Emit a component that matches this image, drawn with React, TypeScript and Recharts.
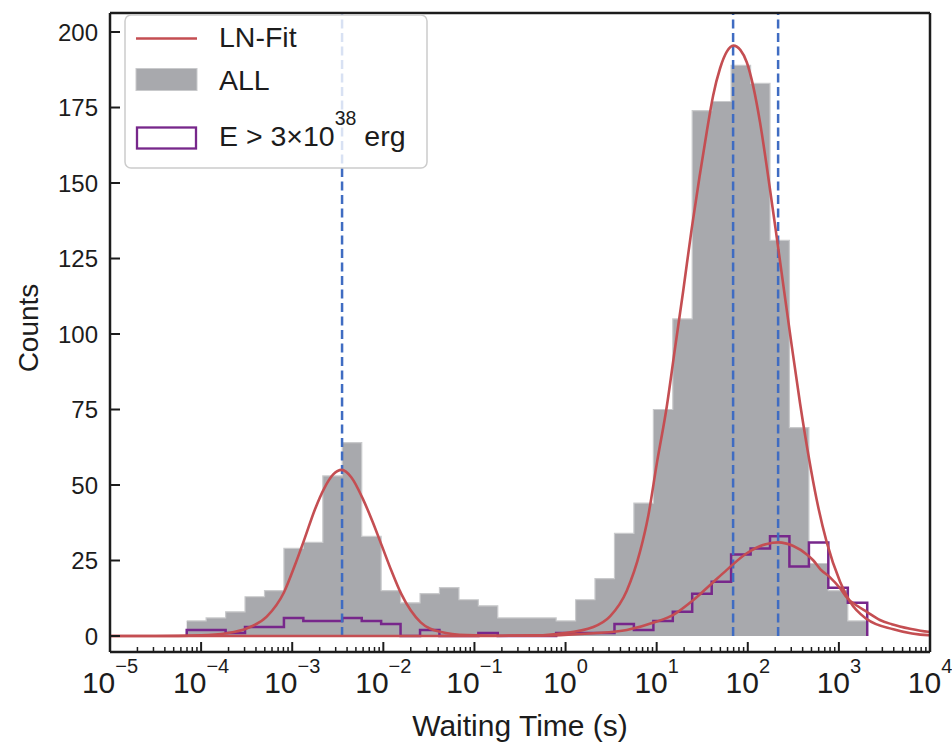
import React from 'react';
import { ComposedChart, Line, Area, XAxis, YAxis, ReferenceLine } from 'recharts';

const W = 952;
const H = 748;
const PLOT = { left: 110, right: 930, top: 13, bottom: 652 };
const FONT = '"Liberation Sans", Arial, Helvetica, sans-serif';
const INK = '#1c1c1c';

// histogram bin edges (log10 of waiting time, s)
const binEdges = [
  -4.158, -3.945, -3.731, -3.518, -3.304, -3.091, -2.878, -2.664, -2.451, -2.237,
  -2.024, -1.811, -1.597, -1.384, -1.17, -0.957, -0.744, -0.53, -0.317, -0.103,
  0.11, 0.323, 0.537, 0.75, 0.964, 1.177, 1.39, 1.604, 1.817, 2.031,
  2.244, 2.457, 2.671, 2.884, 3.098, 3.311,
];
// ALL counts per bin
const allCounts = [
  5, 6, 8, 13, 15, 29, 31, 53, 64, 33,
  15, 11, 14, 16, 12, 10, 6, 6, 6, 5,
  12, 19, 34, 44, 75, 105, 174, 177, 189, 183,
  131, 69, 24, 15, 5,
];
// E > 3e38 erg counts per bin
const highCounts = [
  2, 2, 1, 3, 3, 6, 5, 5, 6, 5,
  4, 0, 2, 0, 0, 1, 0, 0, 0, 1,
  1, 1, 4, 2, 5, 8, 14, 18, 27, 29,
  33, 23, 31, 16, 11,
];

// LN-Fit curve for ALL
const fitAllLogX = [
  -5, -4.5, -4.0, -3.72, -3.5, -3.28, -3.09, -2.97, -2.867, -2.75,
  -2.647, -2.55, -2.457, -2.35, -2.226, -2.12, -2.018, -1.91, -1.806, -1.7,
  -1.59, -1.378, -1.085, -0.7, -0.3, -0.06, 0.305, 0.488, 0.672, 0.818,
  0.909, 1.001, 1.111, 1.2, 1.29, 1.385, 1.47, 1.55, 1.62, 1.696,
  1.77, 1.842, 1.92, 1.989, 2.06, 2.135, 2.22, 2.318, 2.4, 2.483,
  2.574, 2.665, 2.757, 2.867, 3.013, 3.123, 3.306, 3.598, 3.979, 4.0,
];
const fitAllY = [
  0, 0, 0.2, 0.9, 2.5, 6.4, 14.5, 23.5, 32, 42,
  49, 53.5, 55, 52.5, 45.5, 38, 30, 21.5, 14.1, 8.5,
  4.5, 1.4, 0.3, 0.1, 0.2, 0.8, 3, 6.5, 15, 28,
  40, 57, 76, 95, 114, 135, 152, 167, 179, 188,
  193.5, 195.5, 194, 190, 182, 170, 153, 132, 114, 96,
  77, 60, 45, 31, 18, 11.3, 5.6, 2.2, 0.3, 0.3,
];

// LN-Fit curve for E > 3e38 erg
const fitHighLogX = [
  -5, -1, -0.5, -0.06, 0.305, 0.672, 0.993, 1.183, 1.403, 1.605,
  1.77, 1.989, 2.209, 2.336, 2.5, 2.648, 2.72, 2.8, 2.9, 3.013,
  3.093, 3.2, 3.306, 3.45, 3.58, 3.78, 3.98, 4.0,
];
const fitHighY = [
  0, 0, 0.1, 0.3, 0.9, 2.0, 4.7, 7, 11.9, 17.4,
  21.9, 27.4, 30.5, 31, 29.8, 27, 25, 22, 19.5, 15.8,
  12.5, 10, 8, 5.3, 3.9, 2.4, 1.4, 1.35,
];

// fitted peak positions (log10 s)
const peakLogX = [-2.453, 1.839, 2.333];

const xExponents = [-5, -4, -3, -2, -1, 0, 1, 2, 3, 4];
const yTicks = [0, 25, 50, 75, 100, 125, 150, 175, 200];
const Y_DOMAIN: [number, number] = [-5.3, 206.3];

const filledStep = allCounts
  .map((v, i) => ({ x: binEdges[i], y: v }))
  .concat([{ x: binEdges[binEdges.length - 1], y: allCounts[allCounts.length - 1] }]);

const outlineStep = [{ x: binEdges[0], y: 0 }]
  .concat(highCounts.map((v, i) => ({ x: binEdges[i], y: v })))
  .concat([{ x: binEdges[binEdges.length - 1], y: 0 }]);

const fitAll = fitAllLogX.map((x, i) => ({ x, y: fitAllY[i] }));
const fitHigh = fitHighLogX.map((x, i) => ({ x, y: fitHighY[i] }));

const minorTicks: number[] = [];
for (let n = -5; n < 4; n++) {
  for (let k = 2; k <= 9; k++) minorTicks.push(n + Math.log10(k));
}
const xTicks = [...xExponents, ...minorTicks].sort((a, b) => a - b);

const fmtExp = (e: number) => (e < 0 ? '\u2212' + Math.abs(e) : String(e));

const XTick = (props: any) => {
  const { x, y, payload } = props;
  const v = payload.value as number;
  const major = Math.abs(v - Math.round(v)) < 1e-6;
  return (
    <g>
      <line
        x1={x}
        x2={x}
        y1={y}
        y2={y - (major ? 10 : 5)}
        stroke={INK}
        strokeWidth={major ? 2 : 1.5}
      />
      {major && (
        <text
          x={x}
          y={693}
          textAnchor="middle"
          fontSize={30}
          fontFamily={FONT}
          fill={INK}
        >
          10
          <tspan dy={-20} fontSize={20}>
            {fmtExp(Math.round(v))}
          </tspan>
        </text>
      )}
    </g>
  );
};

const YTick = (props: any) => {
  const { y, payload } = props;
  return (
    <g>
      <line x1={PLOT.left} x2={PLOT.left + 10} y1={y} y2={y} stroke={INK} strokeWidth={2} />
      <text
        x={98}
        y={y}
        dy={8.6}
        textAnchor="end"
        fontSize={24}
        fontFamily={FONT}
        fill={INK}
      >
        {payload.value}
      </text>
    </g>
  );
};

const legendLabels = ['LN-Fit', 'ALL', 'E > 3\u00d710', '38', ' erg'];

const Legend = () => (
  <svg
    width={W}
    height={H}
    style={{ position: 'absolute', left: 0, top: 0, pointerEvents: 'none' }}
  >
    <rect
      x={125}
      y={15}
      width={302}
      height={153}
      rx={6}
      ry={6}
      fill="#ffffff"
      fillOpacity={0.8}
      stroke="#cccccc"
      strokeWidth={1.5}
    />
    <line x1={136} x2={197} y1={38.5} y2={38.5} stroke="#c44e52" strokeWidth={2.5} />
    <text x={219} y={47} fontSize={28.5} fontFamily={FONT} fill={INK}>
      {legendLabels[0]}
    </text>
    <rect x={136} y={68.5} width={61} height={22} fill="#a8a9ad" stroke="#c9cacc" strokeWidth={1} />
    <text x={219} y={90} fontSize={28.5} fontFamily={FONT} fill={INK}>
      {legendLabels[1]}
    </text>
    <rect x={137} y={127.5} width={59} height={21} fill="none" stroke="#77278b" strokeWidth={2.3} />
    <text x={219} y={146} fontSize={28.5} fontFamily={FONT} fill={INK}>
      {legendLabels[2]}
      <tspan dy={-21} fontSize={19.5}>
        {legendLabels[3]}
      </tspan>
      <tspan dy={21} fontSize={28.5}>
        {legendLabels[4]}
      </tspan>
    </text>
  </svg>
);

export default function App() {
  return (
    <div style={{ position: 'absolute', left: 0, top: 0, width: W, height: H, background: '#fff' }}>
      <ComposedChart
        width={W}
        height={H}
        margin={{ top: 0, right: 0, bottom: 0, left: 0 }}
        style={{ fontFamily: FONT }}
      >
        <XAxis
          xAxisId="b"
          type="number"
          dataKey="x"
          domain={[-5, 4]}
          allowDataOverflow
          ticks={xTicks}
          interval={0}
          tickSize={0}
          tickMargin={0}
          tick={<XTick />}
          height={H - PLOT.bottom}
          axisLine={{ stroke: INK, strokeWidth: 2.5 }}
          tickLine={false}
          label={{
            content: () => (
              <text
                x={(PLOT.left + PLOT.right) / 2}
                y={736}
                textAnchor="middle"
                fontSize={30}
                fontFamily={FONT}
                fill={INK}
              >
                Waiting Time (s)
              </text>
            ),
          }}
        />
        <XAxis
          xAxisId="t"
          orientation="top"
          type="number"
          dataKey="x"
          domain={[-5, 4]}
          allowDataOverflow
          tick={false}
          tickLine={false}
          height={PLOT.top}
          axisLine={{ stroke: INK, strokeWidth: 2.5 }}
        />
        <YAxis
          yAxisId="l"
          type="number"
          domain={Y_DOMAIN}
          allowDataOverflow
          ticks={yTicks}
          interval={0}
          tickSize={0}
          tickMargin={0}
          tick={<YTick />}
          width={PLOT.left}
          axisLine={{ stroke: INK, strokeWidth: 2.5 }}
          tickLine={false}
          label={{
            content: () => (
              <text
                x={38}
                y={328}
                transform="rotate(-90 38 328)"
                textAnchor="middle"
                fontSize={28}
                fontFamily={FONT}
                fill={INK}
              >
                Counts
              </text>
            ),
          }}
        />
        <YAxis
          yAxisId="r"
          orientation="right"
          type="number"
          domain={Y_DOMAIN}
          allowDataOverflow
          tick={false}
          tickLine={false}
          width={W - PLOT.right}
          axisLine={{ stroke: INK, strokeWidth: 2.5 }}
        />
        <Area
          xAxisId="b"
          yAxisId="l"
          data={filledStep}
          dataKey="y"
          type="stepAfter"
          baseValue={0}
          fill="#a8a9ad"
          fillOpacity={1}
          stroke="#c9cacc"
          strokeWidth={1.2}
          dot={false}
          activeDot={false}
          isAnimationActive={false}
        />
        <Line
          xAxisId="b"
          yAxisId="l"
          data={outlineStep}
          dataKey="y"
          type="stepAfter"
          stroke="#77278b"
          strokeWidth={2.5}
          dot={false}
          activeDot={false}
          isAnimationActive={false}
        />
        {peakLogX.map((p) => (
          <ReferenceLine
            key={p}
            xAxisId="b"
            yAxisId="l"
            segment={[
              { x: p, y: 0 },
              { x: p, y: Y_DOMAIN[1] },
            ]}
            stroke="#3f6cc2"
            strokeWidth={2.5}
            strokeDasharray="9 4.5"
          />
        ))}
        <Line
          xAxisId="b"
          yAxisId="l"
          data={fitAll}
          dataKey="y"
          type="monotone"
          stroke="#c44e52"
          strokeWidth={2.6}
          dot={false}
          activeDot={false}
          isAnimationActive={false}
        />
        <Line
          xAxisId="b"
          yAxisId="l"
          data={fitHigh}
          dataKey="y"
          type="monotone"
          stroke="#c44e52"
          strokeWidth={2.6}
          dot={false}
          activeDot={false}
          isAnimationActive={false}
        />
      </ComposedChart>
      <Legend />
    </div>
  );
}
